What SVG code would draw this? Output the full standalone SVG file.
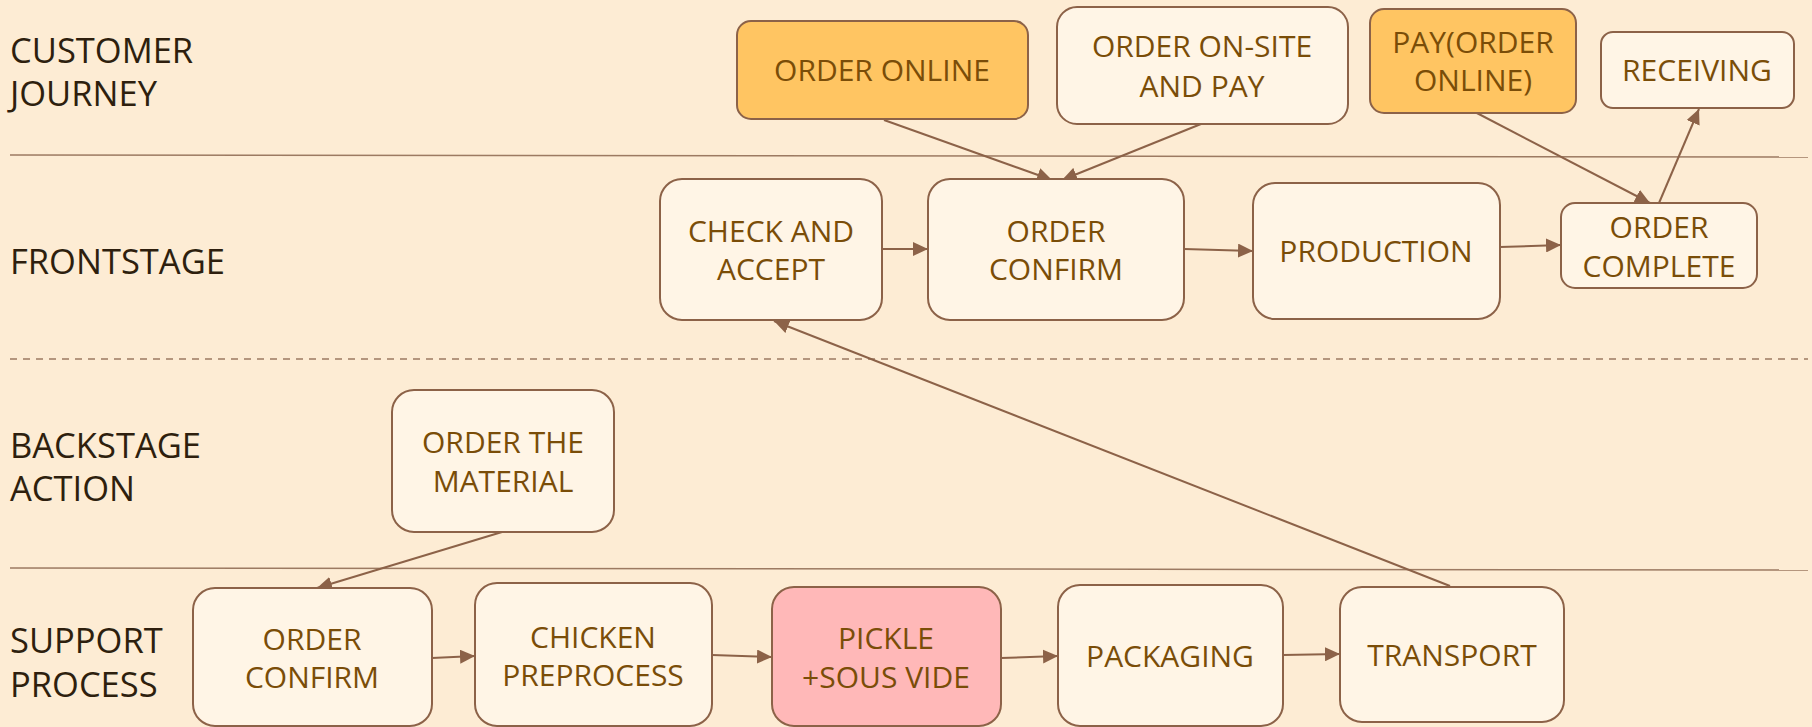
<svg xmlns="http://www.w3.org/2000/svg" width="1812" height="727" viewBox="0 0 1812 727">
<defs>
<style>
.bg{fill:#FDECD4}
.lane{stroke:#9C7A62;stroke-width:1.5;fill:none}
.dash{stroke-dasharray:7 6}
.lbl{font-family:"Segoe UI","Open Sans","Noto Sans",sans-serif;font-size:34.5px;fill:#2E1F0E}
.n rect{stroke:#8C6248;stroke-width:2;fill:#FFF5E6}
.n.or rect{fill:#FFC562}
.n.pk rect{fill:#FFB8B8}
.n text{font-family:"Segoe UI","Open Sans","Noto Sans",sans-serif;font-size:30px;fill:#7A4D08;text-anchor:middle}
.c line{stroke:#8C6248;stroke-width:2;fill:none;marker-end:url(#ah)}
</style>
<marker id="ah" viewBox="0 0 15 14" refX="15" refY="7" markerWidth="15" markerHeight="14" markerUnits="userSpaceOnUse" orient="auto">
<path d="M0,0 L15,7 L0,14 Z" fill="#8C6248"/>
</marker>
</defs>
<rect class="bg" x="0" y="0" width="1812" height="727"/>
<g id="lanes">
<line class="lane" x1="10" y1="155" x2="1808" y2="157"/>
<line class="lane dash" x1="10" y1="359" x2="1808" y2="359"/>
<line class="lane" x1="10" y1="568" x2="1808" y2="570"/>
<text class="lbl" x="10" y="63">CUSTOMER</text>
<text class="lbl" x="10" y="106">JOURNEY</text>
<text class="lbl" x="10" y="274">FRONTSTAGE</text>
<text class="lbl" x="10" y="458">BACKSTAGE</text>
<text class="lbl" x="10" y="501">ACTION</text>
<text class="lbl" x="10" y="653">SUPPORT</text>
<text class="lbl" x="10" y="697">PROCESS</text>
</g>
<g id="connectors" class="c">
<line x1="884" y1="120" x2="1052" y2="180"/>
<line x1="1201" y1="124" x2="1062" y2="180"/>
<line x1="1473" y1="111" x2="1650" y2="203"/>
<line x1="1659" y1="203" x2="1699" y2="109"/>
<line x1="883" y1="249" x2="928" y2="249"/>
<line x1="1184" y1="249" x2="1253" y2="251"/>
<line x1="1500" y1="247" x2="1561" y2="245"/>
<line x1="1450" y1="586" x2="774" y2="321"/>
<line x1="502" y1="532" x2="317" y2="588"/>
<line x1="432" y1="658" x2="475" y2="656"/>
<line x1="712" y1="655" x2="772" y2="657"/>
<line x1="1001" y1="658" x2="1058" y2="656"/>
<line x1="1283" y1="655" x2="1340" y2="654"/>
</g>
<g id="order-online" class="n or"><rect x="737" y="21" width="291" height="98" rx="14"/><text x="882" y="81">ORDER ONLINE</text></g>
<g id="order-onsite" class="n"><rect x="1057" y="7" width="291" height="117" rx="20"/><text x="1202" y="57">ORDER ON-SITE</text><text x="1202" y="97">AND PAY</text></g>
<g id="pay-online" class="n or"><rect x="1370" y="9" width="206" height="104" rx="14"/><text x="1473" y="53">PAY(ORDER</text><text x="1473" y="91">ONLINE)</text></g>
<g id="receiving" class="n"><rect x="1601" y="32" width="193" height="76" rx="12"/><text x="1697" y="81">RECEIVING</text></g>
<g id="check-accept" class="n"><rect x="660" y="179" width="222" height="141" rx="22"/><text x="771" y="242">CHECK AND</text><text x="771" y="280">ACCEPT</text></g>
<g id="order-confirm-front" class="n"><rect x="928" y="179" width="256" height="141" rx="22"/><text x="1056" y="242">ORDER</text><text x="1056" y="280">CONFIRM</text></g>
<g id="production" class="n"><rect x="1253" y="183" width="247" height="136" rx="22"/><text x="1376" y="262">PRODUCTION</text></g>
<g id="order-complete" class="n"><rect x="1561" y="203" width="196" height="85" rx="14"/><text x="1659" y="238">ORDER</text><text x="1659" y="277">COMPLETE</text></g>
<g id="order-material" class="n"><rect x="392" y="390" width="222" height="142" rx="22"/><text x="503" y="453">ORDER THE</text><text x="503" y="492">MATERIAL</text></g>
<g id="order-confirm-support" class="n"><rect x="193" y="588" width="239" height="138" rx="22"/><text x="312" y="650">ORDER</text><text x="312" y="688">CONFIRM</text></g>
<g id="chicken" class="n"><rect x="475" y="583" width="237" height="143" rx="22"/><text x="593" y="648">CHICKEN</text><text x="593" y="686">PREPROCESS</text></g>
<g id="pickle" class="n pk"><rect x="772" y="587" width="229" height="139" rx="22"/><text x="886" y="649">PICKLE</text><text x="886" y="688">+SOUS VIDE</text></g>
<g id="packaging" class="n"><rect x="1058" y="585" width="225" height="141" rx="22"/><text x="1170" y="667">PACKAGING</text></g>
<g id="transport" class="n"><rect x="1340" y="587" width="224" height="135" rx="22"/><text x="1452" y="666">TRANSPORT</text></g>
</svg>
